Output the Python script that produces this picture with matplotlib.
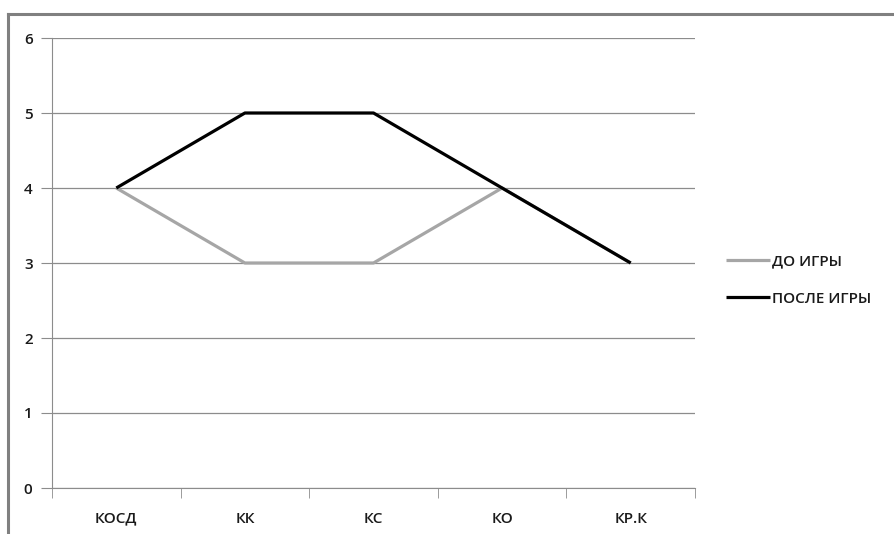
import matplotlib
matplotlib.use("Agg")
import matplotlib.pyplot as plt
from matplotlib.lines import Line2D

categories = ["КОСД", "КК", "КС", "КО", "КР.К"]
before = [4, 3, 3, 4, 3]
after = [4, 5, 5, 4, 3]
series_names = ["ДО ИГРЫ", "ПОСЛЕ ИГРЫ"]

plt.rcParams['font.family'] = ['Open Sans', 'DejaVu Sans']
plt.rcParams['font.weight'] = 'semibold'
TXT = "#1a1a1a"
FS = 11

W, H = 895, 534
fig = plt.figure(figsize=(W/100, H/100), dpi=100)
ax = fig.add_axes([52/W, 1-488/H, (695-52)/W, (488-38)/H])

x = list(range(len(categories)))
ax.plot(x, before, color="#a6a6a6", lw=2.3, label=series_names[0], solid_capstyle="butt", zorder=3)
ax.plot(x, after, color="#000000", lw=2.3, label=series_names[1], solid_capstyle="butt", zorder=4)

ax.set_xlim(-0.5, len(categories)-0.5)
ax.set_ylim(0, 6)
ax.set_yticks(range(0, 7))
ax.set_xticks(x)
ax.set_xticklabels(categories, fontsize=FS, color=TXT)
ax.tick_params(axis='x', length=0, pad=17)
ax.set_xticks([i+0.5 for i in range(-1, len(categories))], minor=True)
ax.tick_params(axis='x', which='minor', length=7, color="#8c8c8c", direction='out')
ax.tick_params(axis='y', length=8, color="#8c8c8c", labelsize=FS, labelcolor=TXT, pad=6)
ax.grid(axis='y', color="#8c8c8c", lw=0.9)
ax.set_axisbelow(True)
for s in ["top", "right"]:
    ax.spines[s].set_visible(False)
ax.spines["left"].set_color("#8c8c8c")
ax.spines["bottom"].set_color("#8c8c8c")

leg = fig.legend(loc="center left", bbox_to_anchor=(712/W, 1-280/H), frameon=False,
                 fontsize=FS, handlelength=2.9, handletextpad=0.15, labelspacing=1.55)
for t in leg.get_texts():
    t.set_color(TXT)

# outer chart border
fig.add_artist(Line2D([8/W, 8/W], [0, 1-14/H], transform=fig.transFigure, color="#808080", lw=2.2))
fig.add_artist(Line2D([8/W, 1], [1-14/H, 1-14/H], transform=fig.transFigure, color="#808080", lw=2.2))

fig.savefig("out.png", dpi=100)
